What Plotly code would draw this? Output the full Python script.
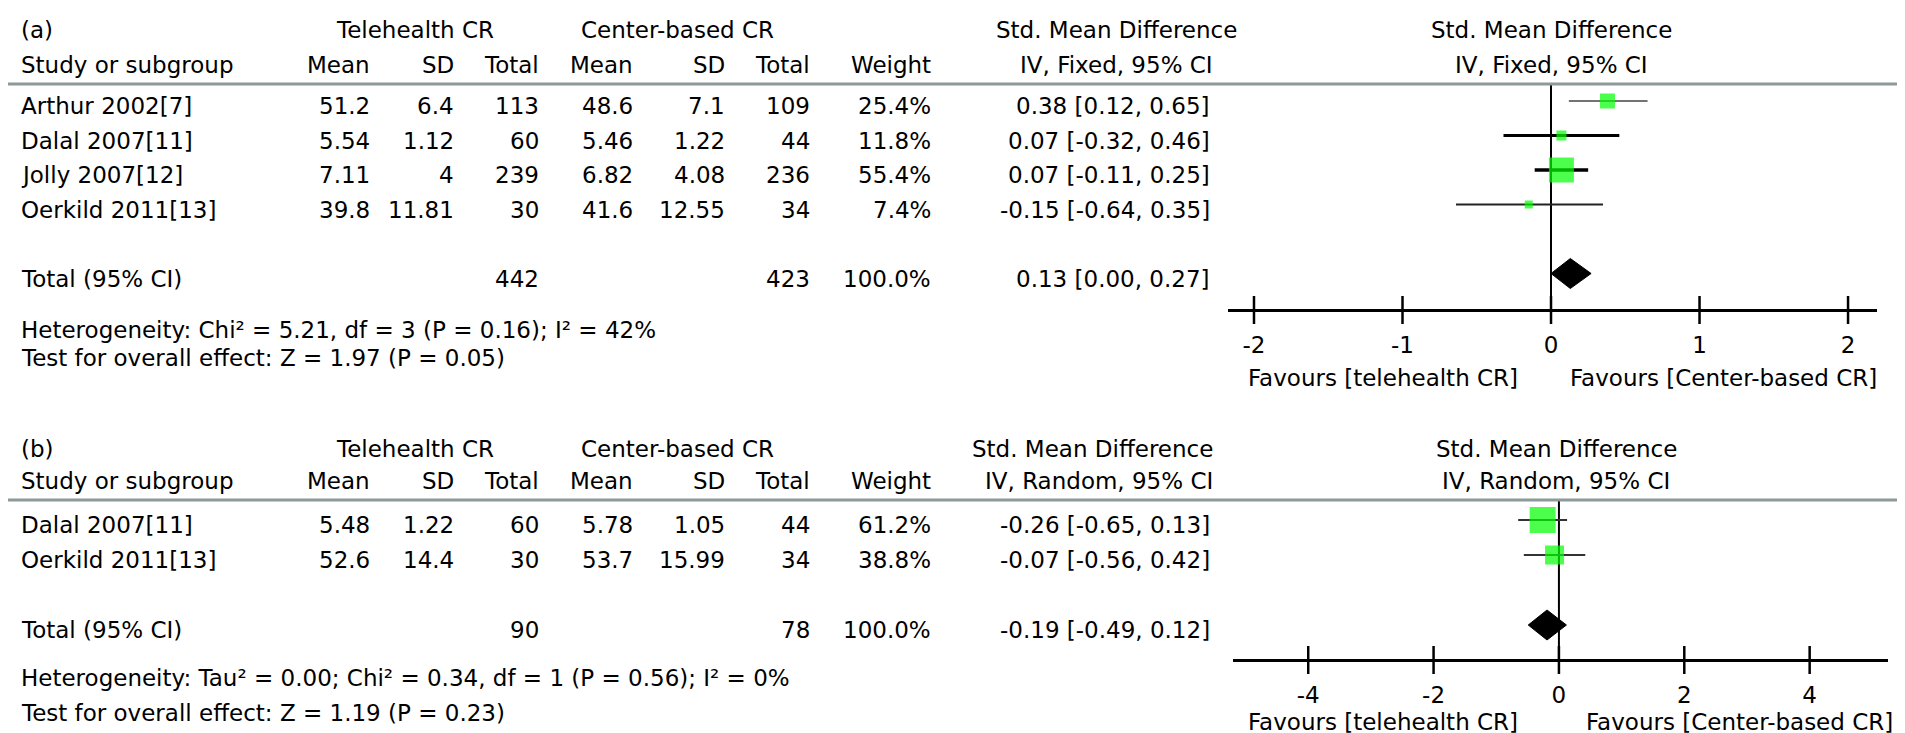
import plotly.graph_objects as go

W, H = 1905, 733
FONT = "DejaVu Sans"
FS = 23

# ---------- panel (a): fixed effect ----------
studies_a = ["Arthur 2002[7]", "Dalal 2007[11]", "Jolly 2007[12]", "Oerkild 2011[13]"]
tele_mean_a = [51.2, 5.54, 7.11, 39.8]
tele_sd_a = [6.4, 1.12, 4, 11.81]
tele_n_a = [113, 60, 239, 30]
cent_mean_a = [48.6, 5.46, 6.82, 41.6]
cent_sd_a = [7.1, 1.22, 4.08, 12.55]
cent_n_a = [109, 44, 236, 34]
weight_a = [25.4, 11.8, 55.4, 7.4]
smd_a = [0.38, 0.07, 0.07, -0.15]
lo_a = [0.12, -0.32, -0.11, -0.64]
hi_a = [0.65, 0.46, 0.25, 0.35]
tot_n_a = [442, 423]
tot_a = [0.13, 0.00, 0.27]  # estimate, low, high
het_a = "Heterogeneity: Chi² = 5.21, df = 3 (P = 0.16); I² = 42%"
test_a = "Test for overall effect: Z = 1.97 (P = 0.05)"
ticks_a = [-2, -1, 0, 1, 2]

# ---------- panel (b): random effects ----------
studies_b = ["Dalal 2007[11]", "Oerkild 2011[13]"]
tele_mean_b = [5.48, 52.6]
tele_sd_b = [1.22, 14.4]
tele_n_b = [60, 30]
cent_mean_b = [5.78, 53.7]
cent_sd_b = [1.05, 15.99]
cent_n_b = [44, 34]
weight_b = [61.2, 38.8]
smd_b = [-0.26, -0.07]
lo_b = [-0.65, -0.56]
hi_b = [0.13, 0.42]
tot_n_b = [90, 78]
tot_b = [-0.19, -0.49, 0.12]
het_b = "Heterogeneity: Tau² = 0.00; Chi² = 0.34, df = 1 (P = 0.56); I² = 0%"
test_b = "Test for overall effect: Z = 1.19 (P = 0.23)"
ticks_b = [-4, -2, 0, 2, 4]

# column right edges (px) for Mean SD Total Mean SD Total Weight
COL_RIGHT = [364, 448, 533, 627, 719, 804, 925]
CI_RIGHT = 1204
TEXT_DY = 5  # table text sits a few px below the marks


def py(px):
    return 1 - px / H


def txt(fig, x, y, s, anchor="right", yref="paper"):
    fig.add_annotation(x=x / W, y=y, xref="paper", yref=yref, text=s, showarrow=False,
                       xanchor=anchor, yanchor="middle",
                       font=dict(family=FONT, size=FS, color="black"))


def panel(fig, n, label, method, studies, cols, weight, smd, lo, hi, tot_n, tot,
          het, test, ticks, g):
    xa = "x" if n == 1 else "x%d" % n
    ya = "y" if n == 1 else "y%d" % n

    def ry(px):
        return (px - g["row0"]) / g["step"]

    rows = list(range(len(studies)))
    trow = len(studies) + 1
    dy = TEXT_DY / g["step"]

    # headers
    txt(fig, 11, py(g["hdr1"]), label, "left")
    txt(fig, 407, py(g["hdr1"]), "Telehealth CR", "center")
    txt(fig, 669, py(g["hdr1"]), "Center-based CR", "center")
    txt(fig, g["smd_x"], py(g["hdr1"]), "Std. Mean Difference", g["smd_anchor"])
    txt(fig, g["plot_hdr"], py(g["hdr1"]), "Std. Mean Difference", "center")
    txt(fig, 11, py(g["hdr2"]), "Study or subgroup", "left")
    for x, s in zip(COL_RIGHT, ["Mean", "SD", "Total", "Mean", "SD", "Total", "Weight"]):
        txt(fig, x, py(g["hdr2"]), s)
    txt(fig, g["smd_x"], py(g["hdr2"]), "IV, %s, 95%% CI" % method, g["smd_anchor"])
    txt(fig, g["plot_hdr"], py(g["hdr2"]), "IV, %s, 95%% CI" % method, "center")
    fig.add_shape(type="line", xref="paper", yref="paper", x0=0, x1=1892 / W,
                  y0=py(g["line"]), y1=py(g["line"]), line=dict(color="#8c9a9a", width=3))

    # study rows
    for i, s in enumerate(studies):
        txt(fig, 11, i + dy, s, "left", ya)
        for x, c in zip(COL_RIGHT[:6], cols):
            txt(fig, x, i + dy, "%g" % c[i], "right", ya)
        txt(fig, COL_RIGHT[6], i + dy, "%.1f%%" % weight[i], "right", ya)
        txt(fig, CI_RIGHT, i + dy, "%.2f [%.2f, %.2f]" % (smd[i], lo[i], hi[i]), "right", ya)

    txt(fig, 11, trow + dy, "Total (95% CI)", "left", ya)
    txt(fig, COL_RIGHT[2], trow + dy, str(tot_n[0]), "right", ya)
    txt(fig, COL_RIGHT[5], trow + dy, str(tot_n[1]), "right", ya)
    txt(fig, COL_RIGHT[6], trow + dy, "%.1f%%" % sum(weight), "right", ya)
    txt(fig, CI_RIGHT, trow + dy, "%.2f [%.2f, %.2f]" % tuple(tot), "right", ya)

    txt(fig, 11, py(g["het"]), het, "left")
    txt(fig, 11, py(g["test"]), test, "left")
    txt(fig, g["fav"][0], py(g["favy"]), "Favours [telehealth CR]", "center")
    txt(fig, g["fav"][1], py(g["favy"]), "Favours [Center-based CR]", "center")

    common = dict(xaxis=xa, yaxis=ya, showlegend=False, hoverinfo="skip")
    # line of no effect
    fig.add_trace(go.Scatter(x=[0, 0], y=[ry(g["line"]), ry(g["axis"])], mode="lines",
                             line=dict(color="black", width=2), **common))
    # confidence intervals
    for i in rows:
        fig.add_trace(go.Scatter(x=[lo[i], hi[i]], y=[i, i], mode="lines",
                                 line=dict(color=g["ci_col"][i], width=g["ci_w"][i]), **common))
    # study estimates
    fig.add_trace(go.Scatter(x=smd, y=rows, mode="markers",
                             marker=dict(symbol="square", size=g["sq"], color="#00ff00",
                                         line=dict(width=0)), **common))
    # pooled diamond
    dh = 15 / g["step"]
    fig.add_trace(go.Scatter(x=[tot[1], tot[0], tot[2], tot[0], tot[1]],
                             y=[trow, trow - dh, trow, trow + dh, trow],
                             mode="lines", fill="toself", fillcolor="black",
                             line=dict(color="black", width=1), **common))
    # crossing tick marks
    fig.add_trace(go.Scatter(x=ticks, y=[ry(g["axis"])] * len(ticks), mode="markers",
                             marker=dict(symbol="line-ns", size=20,
                                         line=dict(color="black", width=2.5)), **common))

    fig.layout[("xaxis" if n == 1 else "xaxis%d" % n)] = dict(
        domain=[g["ax"][0] / W, g["ax"][1] / W], range=g["range"], anchor="free",
        position=py(g["axis"]), showline=True, linecolor="black", linewidth=2.5,
        ticks="", tickvals=ticks, ticktext=[str(t) for t in ticks],
        ticklabelstandoff=14, tickfont=dict(family=FONT, size=FS, color="black"),
        showgrid=False, zeroline=False, fixedrange=True)
    fig.layout[("yaxis" if n == 1 else "yaxis%d" % n)] = dict(
        domain=[0, 1], range=[ry(H), ry(0)], visible=False, fixedrange=True,
        anchor=xa)


fig = go.Figure()

panel(fig, 1, "(a)", "Fixed", studies_a,
      [tele_mean_a, tele_sd_a, tele_n_a, cent_mean_a, cent_sd_a, cent_n_a],
      weight_a, smd_a, lo_a, hi_a, tot_n_a, tot_a, het_a, test_a, ticks_a,
      dict(row0=93, step=34.5, hdr1=22, hdr2=57, line=76, axis=302, het=322, test=350,
           favy=370, fav=(1375, 1715), smd_x=1108, smd_anchor="center", plot_hdr=1543,
           ax=(1220, 1869), range=[-2.175, 2.195],
           ci_col=["#444444", "black", "black", "#222222"], ci_w=[1.5, 3, 3.5, 2],
           sq=[15, 10, 25, 8]))

panel(fig, 2, "(b)", "Random", studies_b,
      [tele_mean_b, tele_sd_b, tele_n_b, cent_mean_b, cent_sd_b, cent_n_b],
      weight_b, smd_b, lo_b, hi_b, tot_n_b, tot_b, het_b, test_b, ticks_b,
      dict(row0=512, step=35, hdr1=441, hdr2=473, line=492, axis=652, het=670, test=705,
           favy=714, fav=(1375, 1731), smd_x=1207, smd_anchor="right", plot_hdr=1548,
           ax=(1225, 1880), range=[-5.2, 5.25],
           ci_col=["#333333", "#333333"], ci_w=[2, 2],
           sq=[26, 19]))

fig.update_layout(width=W, height=H, margin=dict(l=0, r=0, t=0, b=0),
                  paper_bgcolor="white", plot_bgcolor="rgba(0,0,0,0)",
                  font=dict(family=FONT, size=FS, color="black"))

fig.write_html("out.html")
